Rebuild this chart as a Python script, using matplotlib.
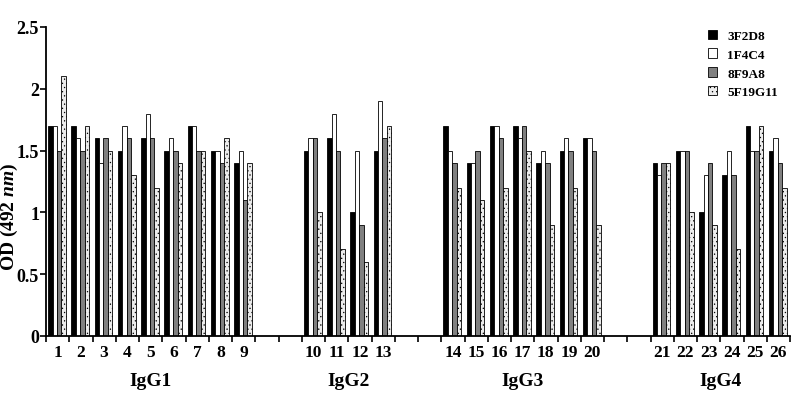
import numpy as np
import matplotlib
matplotlib.use('Agg')
import matplotlib.pyplot as plt
from matplotlib.patches import Patch

plt.rcParams['font.family'] = 'Liberation Serif'
plt.rcParams['font.weight'] = 'bold'
plt.rcParams['mathtext.fontset'] = 'custom'
plt.rcParams['mathtext.it'] = 'Liberation Serif:bold:italic'
plt.rcParams['mathtext.rm'] = 'Liberation Serif:bold'
plt.rcParams['hatch.linewidth'] = 0.4

series = ['3F2D8', '1F4C4', '8F9A8', '5F19G11']
groups = ['IgG1', 'IgG2', 'IgG3', 'IgG4']
clones = [list(range(1, 10)), list(range(10, 14)), list(range(14, 21)), list(range(21, 27))]

# OD per clone, order: 3F2D8, 1F4C4, 8F9A8, 5F19G11
od_3f2d8 = [1.7, 1.7, 1.6, 1.5, 1.6, 1.5, 1.7, 1.5, 1.4,
            1.5, 1.6, 1.0, 1.5,
            1.7, 1.4, 1.7, 1.7, 1.4, 1.5, 1.6,
            1.4, 1.5, 1.0, 1.3, 1.7, 1.5]
od_1f4c4 = [1.7, 1.6, 1.4, 1.7, 1.8, 1.6, 1.7, 1.5, 1.5,
            1.6, 1.8, 1.5, 1.9,
            1.5, 1.4, 1.7, 1.6, 1.5, 1.6, 1.6,
            1.3, 1.5, 1.3, 1.5, 1.5, 1.6]
od_8f9a8 = [1.5, 1.5, 1.6, 1.6, 1.6, 1.5, 1.5, 1.4, 1.1,
            1.6, 1.5, 0.9, 1.6,
            1.4, 1.5, 1.6, 1.7, 1.4, 1.5, 1.5,
            1.4, 1.5, 1.4, 1.3, 1.5, 1.4]
od_5f19g11 = [2.1, 1.7, 1.5, 1.3, 1.2, 1.4, 1.5, 1.6, 1.4,
              1.0, 0.7, 0.6, 1.7,
              1.2, 1.1, 1.2, 1.5, 0.9, 1.2, 0.9,
              1.4, 1.0, 0.9, 0.7, 1.7, 1.2]

values = [od_3f2d8, od_1f4c4, od_8f9a8, od_5f19g11]
faces = ['black', 'white', '#808080', '#ececec']
hatches = [None, None, None, '....']

# slot index for each clone, two empty slots between isotype groups
slots = []
s = 0
for g in clones:
    for c in g:
        slots.append(s)
        s += 1
    s += 2
n_slots = s - 2
slots = np.array(slots)

fig = plt.figure(figsize=(8, 4.1), dpi=100)
ax = fig.add_axes([46 / 800, 73 / 410, 744 / 800, 309 / 410])

w = 0.19
for i in range(4):
    ax.bar(slots + 0.09 + i * w, values[i], width=w, align='edge',
           color=faces[i], edgecolor='black', linewidth=0.6, hatch=hatches[i])

ax.set_xlim(0, n_slots)
ax.set_ylim(0, 2.5)
ax.set_yticks([0, 0.5, 1, 1.5, 2, 2.5])
ax.set_yticklabels(['0', '0.5', '1', '1.5', '2', '2.5'], fontsize=13, fontweight='bold')
ax.set_xticks(np.arange(0, n_slots + 1))
ax.set_xticklabels([])
ax.set_xticks(slots + 0.5, minor=True)
ax.set_xticklabels([str(c) for g in clones for c in g], minor=True, fontsize=12.5, fontweight='bold')
ax.tick_params(axis='x', which='minor', length=0, pad=6)
ax.tick_params(axis='x', which='major', length=4, width=1.2)
ax.tick_params(axis='y', length=4, width=1.2, pad=1)

for side in ['top', 'right']:
    ax.spines[side].set_visible(False)
for side in ['left', 'bottom']:
    ax.spines[side].set_linewidth(1.3)

ax.set_ylabel(r'OD (492 $\mathit{nm}$)', fontsize=14, fontweight='bold')
ax.yaxis.set_label_coords(-0.035, 0.39)

pos = 0
for g, cl in zip(groups, clones):
    center = slots[pos:pos + len(cl)].mean() + 0.5
    ax.text(center, -0.115, g, transform=ax.get_xaxis_transform(), ha='center', va='top',
            fontsize=14, fontweight='bold')
    pos += len(cl)

handles = [Patch(facecolor=faces[i], edgecolor='black', linewidth=0.6, hatch=hatches[i])
           for i in range(4)]
ax.legend(handles, series, loc='upper right', bbox_to_anchor=(1.0, 1.03), frameon=False,
          handlelength=0.7, handleheight=0.7, handletextpad=0.8,
          labelspacing=0.5, prop={'weight': 'bold', 'size': 9.5})

fig.savefig('out.png', dpi=100)
